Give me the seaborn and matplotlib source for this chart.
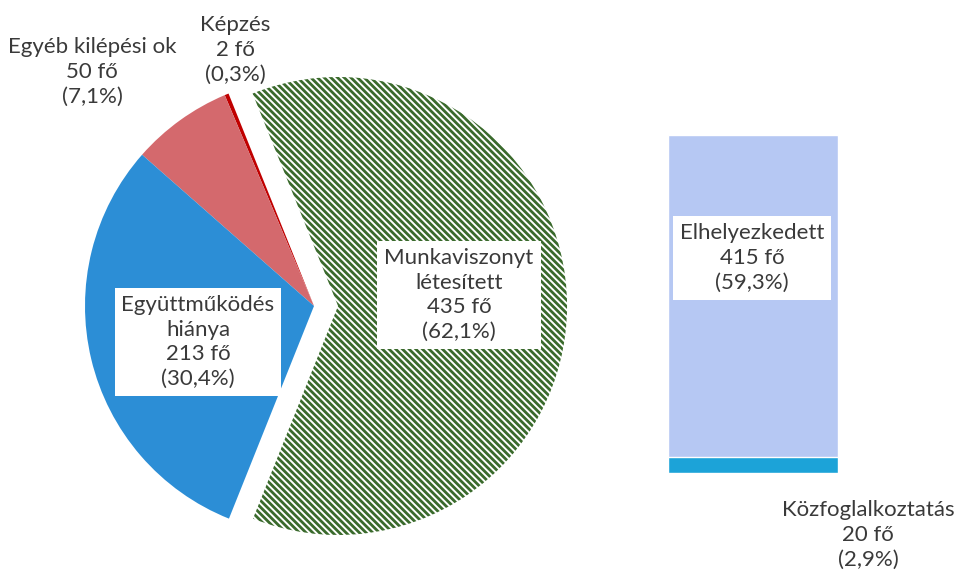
import matplotlib
matplotlib.use("Agg")
import matplotlib.pyplot as plt
import seaborn as sns

# pie data (counter-clockwise from the start angle)
kategoriak = ["Munkaviszonyt létesített", "Képzés", "Egyéb kilépési ok", "Együttműködés hiánya"]
letszam = [435, 2, 50, 213]
szazalek = ["62,1%", "0,3%", "7,1%", "30,4%"]
szinek = ["white", "#c00000", "#d4696d", "#2c8ed6"]

# bar data (split of "Munkaviszonyt létesített")
bontas = ["Elhelyezkedett", "Közfoglalkoztatás"]
bontas_letszam = [415, 20]
bontas_szazalek = ["59,3%", "2,9%"]
bontas_szinek = ["#b6c8f3", "#1ca3d8"]

sns.set_theme(style="white")
plt.rcParams["font.family"] = ["Lato", "DejaVu Sans"]
plt.rcParams["hatch.linewidth"] = 2.0

W, H = 962, 576
fig = plt.figure(figsize=(W / 100, H / 100), dpi=100)

# 1. pie
R = 229
cx, cy = 314, 306
ax = fig.add_axes([(cx - R) / W, (H - cy - 1.1 * R) / H, 2.25 * R / W, 2.2 * R / H])
wedges, _ = ax.pie(letszam, colors=szinek, startangle=-111.8, counterclock=True,
                   explode=[0.105, 0, 0, 0], radius=1)
wedges[0].set_hatch("\\\\\\\\\\")
wedges[0].set_edgecolor("#3a6a2c")
wedges[0].set_linewidth(0)
for w in wedges[1:]:
    w.set_linewidth(0)
ax.set_xlim(-1, 1.25)
ax.set_ylim(-1.1, 1.1)
ax.set_aspect("equal")
ax.axis("off")

szoveg = "#3a3a3a"
box = dict(facecolor="white", edgecolor="none", pad=5)

def px(x, y):
    return x / W, 1 - y / H

fig.text(*px(459, 295), "Munkaviszonyt\nlétesített\n435 fő\n(62,1%)", ha="center", va="center",
         fontsize=16, color=szoveg, linespacing=1.3, bbox=box)
fig.text(*px(198, 342), "Együttműködés\nhiánya\n213 fő\n(30,4%)", ha="center", va="center",
         fontsize=16, color=szoveg, linespacing=1.3, bbox=box)
fig.text(*px(92, 72), "Egyéb kilépési ok\n50 fő\n(7,1%)", ha="center", va="center",
         fontsize=16, color=szoveg, linespacing=1.3)
fig.text(*px(235, 50), "Képzés\n2 fő\n(0,3%)", ha="center", va="center",
         fontsize=16, color=szoveg, linespacing=1.3)

# 2. stacked bar
bar_left, bar_right, bar_top, bar_bottom = 668, 838, 135, 473
aw = (bar_right - bar_left) / 0.8
ax2 = fig.add_axes([(bar_left - 0.1 * aw) / W, (H - bar_bottom) / H, aw / W, (bar_bottom - bar_top) / H])
sns.barplot(x=[""], y=[sum(bontas_letszam)], color=bontas_szinek[0], saturation=1, ax=ax2, width=0.8)
sns.barplot(x=[""], y=[bontas_letszam[1]], color=bontas_szinek[1], saturation=1, ax=ax2, width=0.8)
ax2.set_xlim(-0.5, 0.5)
ax2.set_ylim(0, sum(bontas_letszam))
ax2.axis("off")

fig.text(*px(752, 258), "Elhelyezkedett\n415 fő\n(59,3%)", ha="center", va="center",
         fontsize=16, color=szoveg, linespacing=1.3, bbox=box)
fig.text(*px(868, 535), "Közfoglalkoztatás\n20 fő\n(2,9%)", ha="center", va="center",
         fontsize=16, color=szoveg, linespacing=1.3)

fig.savefig("out.png", dpi=100)
